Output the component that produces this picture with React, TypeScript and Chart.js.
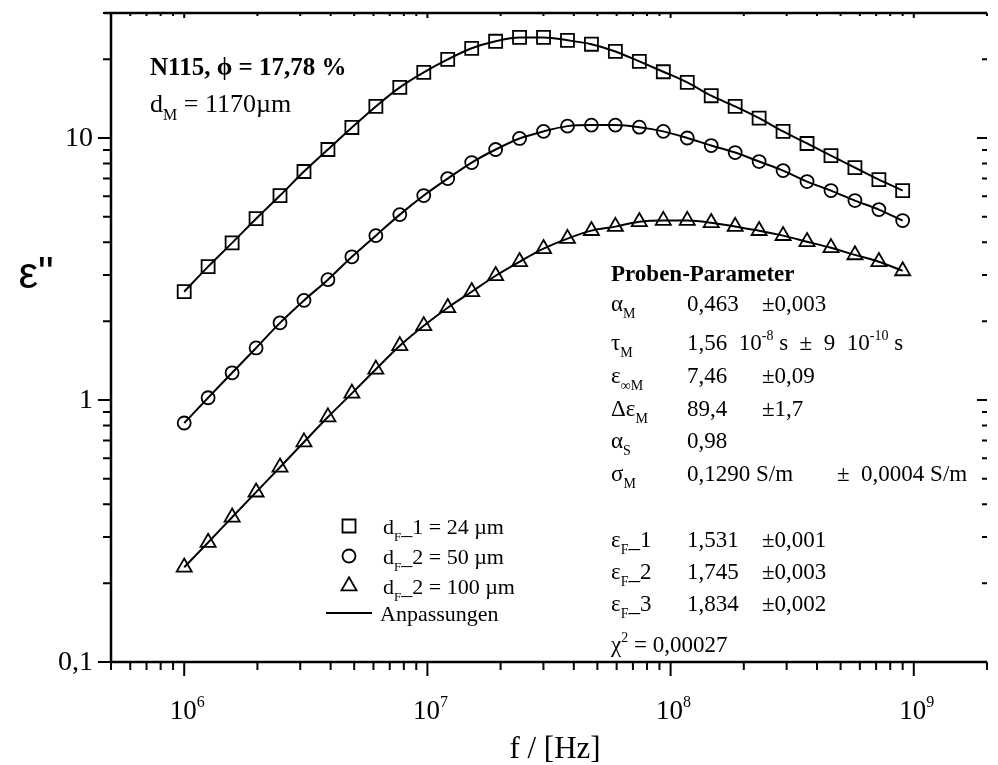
import React, { useEffect, useRef } from 'react';
import { Chart, registerables } from 'chart.js';

Chart.register(...registerables);

// Messfrequenzen (logarithmischer Sweep)
const freqHz = [
  1.0e6, 1.254e6, 1.574e6, 1.975e6, 2.477e6, 3.108e6, 3.899e6, 4.892e6, 6.138e6, 7.7e6,
  9.661e6, 1.212e7, 1.521e7, 1.908e7, 2.393e7, 3.003e7, 3.767e7, 4.726e7, 5.929e7, 7.438e7,
  9.333e7, 1.171e8, 1.469e8, 1.843e8, 2.312e8, 2.901e8, 3.639e8, 4.566e8, 5.728e8, 7.186e8, 9.0e8,
];

// Imaginärteil der Permittivität, Folie 24 µm
const epsF24 = [
  2.59, 3.23, 3.98, 4.92, 6.03, 7.45, 9.04, 10.97, 13.2, 15.6,
  17.8, 19.95, 22.0, 23.4, 24.2, 24.2, 23.6, 22.8, 21.4, 19.6,
  17.9, 16.3, 14.5, 13.2, 11.9, 10.6, 9.53, 8.57, 7.71, 6.94, 6.3,
];

// Folie 50 µm
const epsF50 = [
  0.817, 1.02, 1.27, 1.58, 1.97, 2.4, 2.88, 3.52, 4.24, 5.1,
  6.03, 7.0, 8.06, 9.04, 9.96, 10.6, 11.1, 11.2, 11.2, 11.0,
  10.6, 10.0, 9.36, 8.8, 8.13, 7.51, 6.82, 6.3, 5.77, 5.33, 4.84,
];

// Folie 100 µm
const epsF100 = [
  0.23, 0.286, 0.357, 0.445, 0.554, 0.691, 0.861, 1.06, 1.31, 1.61,
  1.92, 2.25, 2.59, 2.98, 3.37, 3.78, 4.13, 4.43, 4.59, 4.79,
  4.84, 4.84, 4.75, 4.59, 4.43, 4.24, 4.02, 3.81, 3.58, 3.37, 3.11,
];

// Achsenbeschriftungen
const xTickValues = [1e6, 1e7, 1e8, 1e9];
const xTickExponents = ['6', '7', '8', '9'];
const yTickValues = [0.1, 1, 10];
const yTickLabels = ['0,1', '1', '10'];
const xTitle = 'f / [Hz]';
const yTitle = 'ε"';

type Run = { t: string; s?: 'sub' | 'sup' };

const sampleTitle = 'N115, ϕ = 17,78 %';
const sampleThickness: Run[] = [{ t: 'd' }, { t: 'M', s: 'sub' }, { t: ' = 1170µm' }];

const legendLabels: Run[][] = [
  [{ t: 'd' }, { t: 'F', s: 'sub' }, { t: '_1 = 24 µm' }],
  [{ t: 'd' }, { t: 'F', s: 'sub' }, { t: '_2 = 50 µm' }],
  [{ t: 'd' }, { t: 'F', s: 'sub' }, { t: '_2 = 100 µm' }],
];
const fitLabel = 'Anpassungen';

const paramHeader = 'Proben-Parameter';
const paramSymbols: Run[][] = [
  [{ t: 'α' }, { t: 'M', s: 'sub' }],
  [{ t: 'τ' }, { t: 'M', s: 'sub' }],
  [{ t: 'ε' }, { t: '∞M', s: 'sub' }],
  [{ t: 'Δε' }, { t: 'M', s: 'sub' }],
  [{ t: 'α' }, { t: 'S', s: 'sub' }],
  [{ t: 'σ' }, { t: 'M', s: 'sub' }],
  [{ t: 'ε' }, { t: 'F', s: 'sub' }, { t: '_1' }],
  [{ t: 'ε' }, { t: 'F', s: 'sub' }, { t: '_2' }],
  [{ t: 'ε' }, { t: 'F', s: 'sub' }, { t: '_3' }],
];
const paramValues: Run[][] = [
  [{ t: '0,463' }],
  [{ t: '1,56  10' }, { t: '-8', s: 'sup' }, { t: ' s  ±  9  10' }, { t: '-10', s: 'sup' }, { t: ' s' }],
  [{ t: '7,46' }],
  [{ t: '89,4' }],
  [{ t: '0,98' }],
  [{ t: '0,1290 S/m' }],
  [{ t: '1,531' }],
  [{ t: '1,745' }],
  [{ t: '1,834' }],
];
const paramErrors = ['±0,003', '', '±0,09', '±1,7', '', '±  0,0004 S/m', '±0,001', '±0,003', '±0,002'];
const chiSquare: Run[] = [{ t: 'χ' }, { t: '2', s: 'sup' }, { t: ' = 0,00027' }];

const SERIF = '"Liberation Serif", "Times New Roman", serif';
const SANS = '"Liberation Sans", Arial, sans-serif';

function fontOf(size: number, bold = false, family = SERIF) {
  return `${bold ? 'bold ' : ''}${size}px ${family}`;
}

function drawRuns(
  ctx: CanvasRenderingContext2D,
  runs: Run[],
  x: number,
  y: number,
  size: number,
  opts: { bold?: boolean; align?: 'left' | 'center' | 'right' } = {}
) {
  const parts = runs.map((r) => {
    const sz = r.s ? Math.round(size * 0.6) : size;
    ctx.font = fontOf(sz, opts.bold);
    return { ...r, sz, w: ctx.measureText(r.t).width };
  });
  const total = parts.reduce((s, p) => s + p.w, 0);
  let cx = opts.align === 'center' ? x - total / 2 : opts.align === 'right' ? x - total : x;
  ctx.textAlign = 'left';
  ctx.textBaseline = 'alphabetic';
  for (const p of parts) {
    ctx.font = fontOf(p.sz, opts.bold);
    const dy = p.s === 'sub' ? size * 0.3 : p.s === 'sup' ? -size * 0.45 : 0;
    ctx.fillText(p.t, cx, y + dy);
    cx += p.w;
  }
}

function marker(ctx: CanvasRenderingContext2D, style: string, x: number, y: number) {
  ctx.beginPath();
  if (style === 'rect') {
    ctx.rect(x - 6.5, y - 6.5, 13, 13);
  } else if (style === 'circle') {
    ctx.arc(x, y, 6.5, 0, Math.PI * 2);
  } else {
    const r = 8.7;
    ctx.moveTo(x, y - r);
    ctx.lineTo(x + r * Math.sin((2 * Math.PI) / 3), y + r / 2);
    ctx.lineTo(x - r * Math.sin((2 * Math.PI) / 3), y + r / 2);
    ctx.closePath();
  }
  ctx.stroke();
}

const decorations = {
  id: 'decorations',
  afterDraw(chart: any) {
    const { ctx, chartArea: a } = chart;
    const xs = chart.scales.x;
    const ys = chart.scales.y;
    ctx.save();
    ctx.strokeStyle = '#000';
    ctx.fillStyle = '#000';

    // Rahmen
    ctx.lineWidth = 2.5;
    ctx.beginPath();
    ctx.moveTo(a.left - 7, a.top);
    ctx.lineTo(a.right, a.top);
    ctx.moveTo(a.left, a.top);
    ctx.lineTo(a.left, a.bottom);
    ctx.moveTo(a.left, a.bottom);
    ctx.lineTo(a.right, a.bottom);
    ctx.stroke();

    // Teilstriche y
    ctx.lineWidth = 2;
    ctx.beginPath();
    for (const d of [0.1, 1, 10]) {
      for (let m = 1; m <= 9; m++) {
        const v = d * m;
        if (v < ys.min * 0.999 || v > ys.max * 1.001) continue;
        const py = ys.getPixelForValue(v);
        const major = m === 1;
        ctx.moveTo(a.left - (major ? 13 : 8), py);
        ctx.lineTo(a.left, py);
        ctx.moveTo(a.right - (major ? 10 : 5), py);
        ctx.lineTo(a.right, py);
      }
    }
    // Teilstriche x
    for (const d of [1e5, 1e6, 1e7, 1e8, 1e9]) {
      for (let m = 1; m <= 9; m++) {
        const v = d * m;
        if (v < xs.min * 0.999 || v > xs.max * 1.001) continue;
        const px = xs.getPixelForValue(v);
        const major = m === 1;
        ctx.moveTo(px, a.bottom);
        ctx.lineTo(px, a.bottom + (major ? 14 : 8));
        ctx.moveTo(px, a.top);
        ctx.lineTo(px, a.top + (major ? 5 : 3));
      }
    }
    ctx.stroke();

    // Beschriftung y
    ctx.textAlign = 'right';
    ctx.textBaseline = 'middle';
    ctx.font = fontOf(28);
    yTickValues.forEach((v, i) => {
      ctx.fillText(yTickLabels[i], a.left - 18, ys.getPixelForValue(v) + 1);
    });
    // Beschriftung x
    xTickValues.forEach((v, i) => {
      const px = xs.getPixelForValue(v);
      drawRuns(ctx, [{ t: '10' }, { t: xTickExponents[i], s: 'sup' }], px + 3, a.bottom + 57, 27, { align: 'center' });
    });

    // Achsentitel
    ctx.font = fontOf(31);
    ctx.textAlign = 'center';
    ctx.textBaseline = 'alphabetic';
    ctx.fillText(xTitle, 555, 758);
    ctx.font = `44px ${SANS}`;
    ctx.textBaseline = 'middle';
    ctx.fillText(yTitle, 36, 276);

    // Probenbezeichnung
    ctx.textAlign = 'left';
    ctx.textBaseline = 'alphabetic';
    ctx.font = fontOf(25, true);
    ctx.fillText(sampleTitle, 150, 75);
    drawRuns(ctx, sampleThickness, 150, 112, 26);

    // Legende
    const lx = 349;
    const rows = [526, 556, 586];
    const styles = ['rect', 'circle', 'triangle'];
    ctx.lineWidth = 1.8;
    rows.forEach((ry, i) => {
      marker(ctx, styles[i], lx, ry);
      drawRuns(ctx, legendLabels[i], 383, ry + 8, 22);
    });
    ctx.lineWidth = 2;
    ctx.beginPath();
    ctx.moveTo(326, 613);
    ctx.lineTo(372, 613);
    ctx.stroke();
    ctx.font = fontOf(22);
    ctx.textBaseline = 'alphabetic';
    ctx.fillText(fitLabel, 380, 621);

    // Parametertabelle
    ctx.font = fontOf(23, true);
    ctx.fillText(paramHeader, 611, 281);
    const rowY = [311, 350, 383, 416, 448, 481, 547, 579, 611];
    paramSymbols.forEach((sym, i) => {
      const y = rowY[i];
      drawRuns(ctx, sym, 611, y, 23);
      drawRuns(ctx, paramValues[i], 687, y, 23);
      if (paramErrors[i]) {
        const ex = paramErrors[i].indexOf('S/m') >= 0 ? 837 : 762;
        drawRuns(ctx, [{ t: paramErrors[i] }], ex, y, 23);
      }
    });
    drawRuns(ctx, chiSquare, 611, 652, 23);

    ctx.restore();
  },
};

function pairs(values: number[]) {
  return freqHz.map((f, i) => ({ x: f, y: values[i] }));
}

export default function App() {
  const canvasRef = useRef<HTMLCanvasElement | null>(null);

  useEffect(() => {
    const canvas = canvasRef.current;
    if (!canvas) return;
    const markerBase = {
      showLine: false,
      borderColor: '#000',
      backgroundColor: 'rgba(0,0,0,0)',
      pointBorderWidth: 1.8,
      pointHoverRadius: 0,
    };
    const fitBase = {
      showLine: true,
      borderColor: '#000',
      borderWidth: 2,
      pointRadius: 0,
      tension: 0.4,
      cubicInterpolationMode: 'monotone' as const,
    };
    const chart = new Chart(canvas, {
      type: 'scatter',
      data: {
        datasets: [
          { ...markerBase, label: 'd_F_1 = 24 µm', data: pairs(epsF24), pointStyle: 'rect', pointRadius: 9.2 },
          { ...markerBase, label: 'd_F_2 = 50 µm', data: pairs(epsF50), pointStyle: 'circle', pointRadius: 6.5 },
          { ...markerBase, label: 'd_F_2 = 100 µm', data: pairs(epsF100), pointStyle: 'triangle', pointRadius: 8.7 },
          { ...fitBase, label: 'Anpassungen', data: pairs(epsF24) },
          { ...fitBase, label: 'Anpassungen', data: pairs(epsF50) },
          { ...fitBase, label: 'Anpassungen', data: pairs(epsF100) },
        ],
      },
      options: {
        animation: false,
        responsive: false,
        devicePixelRatio: 1,
        events: [],
        layout: { padding: { left: 111, top: 13, right: 0, bottom: 103 } },
        plugins: { legend: { display: false }, tooltip: { enabled: false } },
        scales: {
          x: { type: 'logarithmic', min: 5e5, max: 2e9, display: false },
          y: { type: 'logarithmic', min: 0.1, max: 30, display: false },
        },
      },
      plugins: [decorations],
    });
    return () => chart.destroy();
  }, []);

  return (
    <div style={{ position: 'fixed', left: 0, top: 0, width: 998, height: 765, background: '#fff' }}>
      <canvas ref={canvasRef} width={998} height={765} style={{ display: 'block' }} />
    </div>
  );
}
